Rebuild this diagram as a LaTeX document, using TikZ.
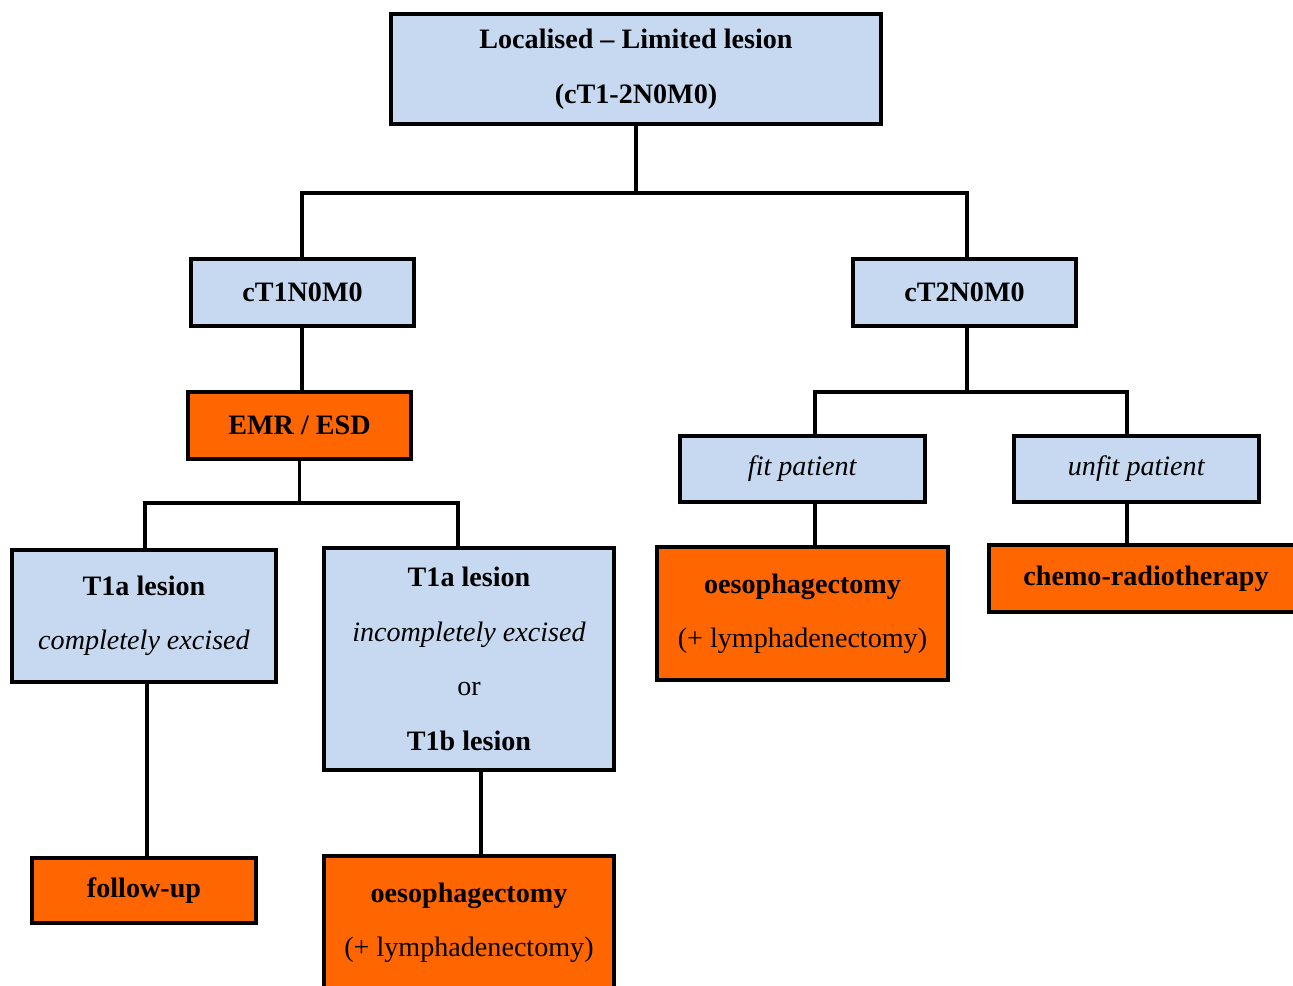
\documentclass[tikz,border=0pt]{standalone}
\usepackage{fontspec}
\setmainfont{Liberation Serif}

\begin{document}
\begin{tikzpicture}[x=0.02cm, y=-0.02cm]

% Define Box Colors
\definecolor{StageColor}{HTML}{C6D9F1}
\definecolor{TherapyColor}{HTML}{FF6600}

\tikzset{
  stage/.style={draw=black, line width=2.2pt, fill=StageColor, align=center, inner sep=0pt,
    font=\fontsize{16}{31}\selectfont},
  therapy/.style={stage, fill=TherapyColor},
  link/.style={line width=2.2pt}
}

\useasboundingbox (0,0) rectangle (1293,985);

% Top Level (Staging)
\node[stage, minimum width=9.8cm, minimum height=2.2cm] (local) at (636,69)
  {\textbf{Localised -- Limited lesion}\\\textbf{(cT1-2N0M0)}};

\node[stage, minimum width=4.46cm, minimum height=1.34cm] (ct1) at (302.5,292.5) {\textbf{cT1N0M0}};
\node[stage, minimum width=4.46cm, minimum height=1.34cm] (ct2) at (964.5,292.5) {\textbf{cT2N0M0}};

% Left Branch (cT1)
\node[therapy, minimum width=4.46cm, minimum height=1.34cm] (emr) at (299.5,425.5) {\textbf{EMR / ESD}};

\node[stage, minimum width=5.28cm, minimum height=2.64cm] (t1acomp) at (144,616)
  {\textbf{T1a lesion}\\\textit{completely excised}};
\node[stage, minimum width=5.8cm, minimum height=4.44cm] (t1ainc) at (469,659)
  {\textbf{T1a lesion}\\\textit{incompletely excised}\\or\\\textbf{T1b lesion}};

\node[therapy, minimum width=4.48cm, minimum height=1.3cm] (follow) at (144,890.5) {\textbf{follow-up}};
\node[therapy, minimum width=5.8cm, minimum height=2.66cm] (oesoleft) at (469,922.5)
  {\textbf{oesophagectomy}\\(+ lymphadenectomy)};

% Right Branch (cT2)
\node[stage, minimum width=4.9cm, minimum height=1.32cm] (fit) at (802.5,469) {\textit{fit patient}};
\node[stage, minimum width=4.9cm, minimum height=1.32cm] (unfit) at (1136.5,469) {\textit{unfit patient}};

\node[therapy, minimum width=5.82cm, minimum height=2.66cm] (oesoright) at (802.5,613.5)
  {\textbf{oesophagectomy}\\(+ lymphadenectomy)};
\node[therapy, minimum width=6.28cm, minimum height=1.34cm] (chemo) at (1146,578.5) {\textbf{chemo-radiotherapy}};

% Connectors
\draw[link] (local.south) -- ++(0,67) -| (302,0 |- ct1.north);
\draw[link] (local.south) -- ++(0,67) -| (967,0 |- ct2.north);

\draw[link] (302,0 |- ct1.south) -- (302,0 |- emr.north);
\draw[link] (emr.south) -- ++(0,42) -| (145,0 |- t1acomp.north);
\draw[link] (emr.south) -- ++(0,42) -| (458,0 |- t1ainc.north);
\draw[link] (147,0 |- t1acomp.south) -- (147,0 |- follow.north);
\draw[link] (481,0 |- t1ainc.south) -- (481,0 |- oesoleft.north);

\draw[link] (967,0 |- ct2.south) -- ++(0,64) -| (815,0 |- fit.north);
\draw[link] (967,0 |- ct2.south) -- ++(0,64) -| (1127,0 |- unfit.north);
\draw[link] (815,0 |- fit.south) -- (815,0 |- oesoright.north);
\draw[link] (1127,0 |- unfit.south) -- (1127,0 |- chemo.north);

\end{tikzpicture}
\end{document}
